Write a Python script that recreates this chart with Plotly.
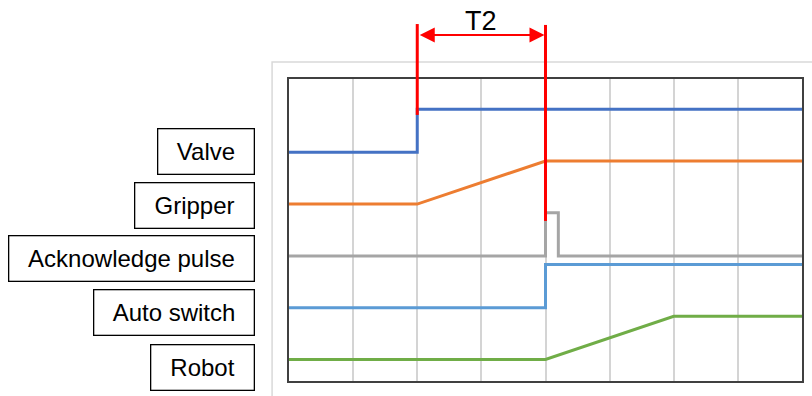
import plotly.graph_objects as go

# ---- data ----
signal_names = ["Valve", "Gripper", "Acknowledge pulse", "Auto switch", "Robot"]

valve_x = [0, 2, 2, 8]
valve_y = [4.8, 4.8, 5.8, 5.8]

gripper_x = [0, 2, 4, 8]
gripper_y = [3.6, 3.6, 4.6, 4.6]

ack_x = [0, 4, 4, 4.2, 4.2, 8]
ack_y = [2.4, 2.4, 3.4, 3.4, 2.4, 2.4]

auto_x = [0, 4, 4, 8]
auto_y = [1.2, 1.2, 2.2, 2.2]

robot_x = [0, 4, 6, 8]
robot_y = [0, 0, 1, 1]

t2_start = 2
t2_end = 4
t2_label = "T2"

x_range = [0, 8]
y_range = [-0.5, 6.5]

# ---- styles ----
colors = ["#4472C4", "#ED7D31", "#A5A5A5", "#5B9BD5", "#70AD47"]
FONT = "Arial, Liberation Sans, sans-serif"
label_box_widths = [98, 121, 247, 162, 105]
label_box_y = [0.7597, 0.5808, 0.4043, 0.2255, 0.0456]

series = [
    (valve_x, valve_y),
    (gripper_x, gripper_y),
    (ack_x, ack_y),
    (auto_x, auto_y),
    (robot_x, robot_y),
]

fig = go.Figure()
for (xs, ys), name, c in zip(series, signal_names, colors):
    fig.add_trace(go.Scatter(x=xs, y=ys, mode="lines", name=name,
                             line=dict(color=c, width=3),
                             hoverinfo="skip"))

shapes = []
# outer light frame
shapes.append(dict(type="rect", xref="paper", yref="paper",
                   x0=-0.033, x1=1.2, y0=-0.3, y1=1.0562,
                   line=dict(color="#D9D9D9", width=1.5), layer="below"))
# red marker lines
shapes.append(dict(type="line", xref="x", yref="paper",
                   x0=t2_start, x1=t2_start, y0=0.881, y1=1.182,
                   line=dict(color="#FF0000", width=3), layer="above"))
shapes.append(dict(type="line", xref="x", yref="paper",
                   x0=t2_end, x1=t2_end, y0=0.530, y1=1.179,
                   line=dict(color="#FF0000", width=3), layer="above"))

annotations = []
# double-headed arrow
annotations.append(dict(xref="x", yref="paper", x=t2_end, y=1.1455,
                        axref="x", ayref="pixel", ax=t2_start, ay=0,
                        text="", showarrow=True, arrowhead=2, startarrowhead=2,
                        arrowside="end+start", arrowwidth=2,
                        arrowsize=1.5, startarrowsize=1.5,
                        arrowcolor="#FF0000", standoff=1, startstandoff=1))
annotations.append(dict(xref="x", yref="paper", x=(t2_start + t2_end) / 2,
                        y=1.193, text=t2_label, showarrow=False,
                        font=dict(family=FONT, size=27, color="#000000"),
                        xanchor="center", yanchor="middle"))
# label boxes
for name, w, yy in zip(signal_names, label_box_widths, label_box_y):
    annotations.append(dict(xref="paper", yref="paper", x=-0.067, y=yy,
                            xanchor="right", yanchor="middle",
                            text=name, showarrow=False,
                            font=dict(family=FONT, size=24, color="#000000"),
                            bordercolor="#000000", borderwidth=1.3, borderpad=0,
                            bgcolor="#FFFFFF",
                            width=w - 2.6, height=44.4, align="center",
                            valign="middle"))

fig.update_layout(
    width=812, height=396,
    margin=dict(l=289, r=8, t=79, b=15),
    paper_bgcolor="#FFFFFF", plot_bgcolor="#FFFFFF",
    showlegend=False,
    shapes=shapes, annotations=annotations,
    xaxis=dict(range=x_range, dtick=1, showgrid=True, gridcolor="#D4D4D4",
               gridwidth=1.6, showticklabels=False, ticks="", zeroline=False,
               showline=True, linecolor="#404040", linewidth=2, mirror=True,
               fixedrange=True),
    yaxis=dict(range=y_range, showgrid=False, showticklabels=False, ticks="",
               zeroline=False, showline=True, linecolor="#404040", linewidth=2,
               mirror=True, fixedrange=True),
)

fig.write_html(
    "out.html",
    config={"displayModeBar": False},
    post_script="document.body.style.margin='0';document.body.style.overflow='hidden';",
)
